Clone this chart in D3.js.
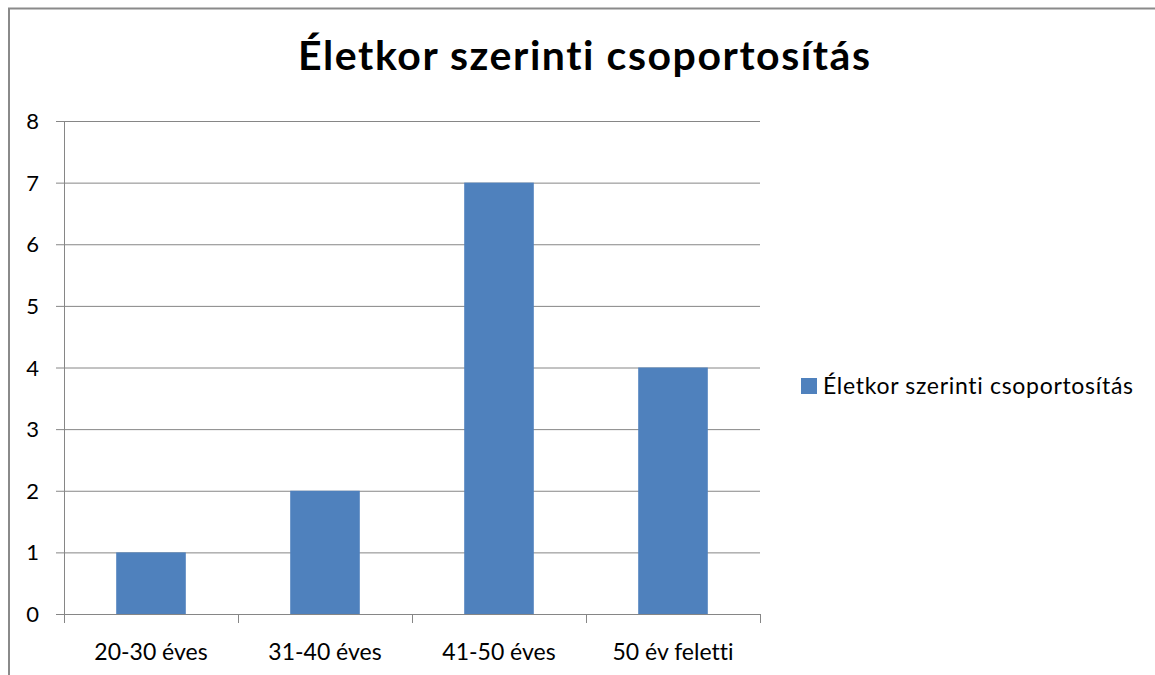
<!DOCTYPE html>
<html>
<head>
<meta charset="utf-8">
<script src="https://cdn.jsdelivr.net/npm/d3@7"></script>
<style>
body{margin:0;background:#fff;}
text{font-family:Lato, "Open Sans", sans-serif;fill:#000;font-variant-ligatures:none;}
</style>
</head>
<body>
<svg id="svg" width="1155" height="675"></svg>
<script>
const categories = ['20-30 éves', '31-40 éves', '41-50 éves', '50 év feletti'];
const values = [1, 2, 7, 4];
const yTicks = [0, 1, 2, 3, 4, 5, 6, 7, 8];
const title = 'Életkor szerinti csoportosítás';
const seriesName = 'Életkor szerinti csoportosítás';

const svg = d3.select('#svg');

// outer frame (only top and left visible)
svg.append('path')
    .attr('d', 'M9,675 L9,8.5 L1155,8.5')
    .attr('fill', 'none')
    .attr('stroke', '#8a8a8a')
    .attr('stroke-width', 2);

svg.append('text')
    .attr('x', 298).attr('y', 70)
    .attr('textLength', 572).attr('lengthAdjust', 'spacing')
    .style('font-size', '41px').style('font-weight', 'bold')
    .text(title);

const plotLeft = 64, plotRight = 760, plotTop = 121, plotBottom = 614;

const x = d3.scaleBand().domain(categories).range([plotLeft, plotRight]).paddingInner(0.6).paddingOuter(0.3);
const xCat = d3.scaleBand().domain(categories).range([plotLeft, plotRight]);
const y = d3.scaleLinear().domain([0, 8]).range([plotBottom, plotTop]);

const g = svg.append('g');

// gridlines
g.selectAll('.grid').data(yTicks).enter().append('line')
    .attr('x1', plotLeft - 8).attr('x2', plotRight)
    .attr('y1', d => y(d) + 0.5).attr('y2', d => y(d) + 0.5)
    .attr('stroke', '#868686').attr('stroke-width', 1);

// y labels
g.selectAll('.ylab').data(yTicks).enter().append('text')
    .attr('x', 39).attr('y', d => y(d) + 8)
    .attr('text-anchor', 'end')
    .style('font-size', '22px')
    .text(d => d);

// bars
g.selectAll('.bar').data(values).enter().append('rect')
    .attr('x', (d, i) => x(categories[i]))
    .attr('width', x.bandwidth())
    .attr('y', d => y(d))
    .attr('height', d => y(0) - y(d))
    .attr('fill', '#4f81bd');

// y axis line
g.append('line')
    .attr('x1', plotLeft + 0.5).attr('x2', plotLeft + 0.5)
    .attr('y1', plotTop).attr('y2', plotBottom + 8)
    .attr('stroke', '#868686');

// category ticks
const catEdges = categories.map(c => xCat(c)).concat([plotRight]);
g.selectAll('.ctick').data(catEdges).enter().append('line')
    .attr('x1', d => Math.round(d) + 0.5).attr('x2', d => Math.round(d) + 0.5)
    .attr('y1', plotBottom).attr('y2', plotBottom + 9)
    .attr('stroke', '#868686');

// x labels
g.selectAll('.xlab').data(categories).enter().append('text')
    .attr('x', d => xCat(d) + xCat.bandwidth() / 2)
    .attr('y', 660)
    .attr('text-anchor', 'middle')
    .style('font-size', '23px')
    .text(d => d);

// legend
svg.append('rect').attr('x', 801).attr('y', 378).attr('width', 16).attr('height', 16).attr('fill', '#4f81bd');
svg.append('text').attr('x', 823).attr('y', 394)
    .attr('textLength', 310).attr('lengthAdjust', 'spacing')
    .style('font-size', '23px').text(seriesName);
</script>
</body>
</html>
